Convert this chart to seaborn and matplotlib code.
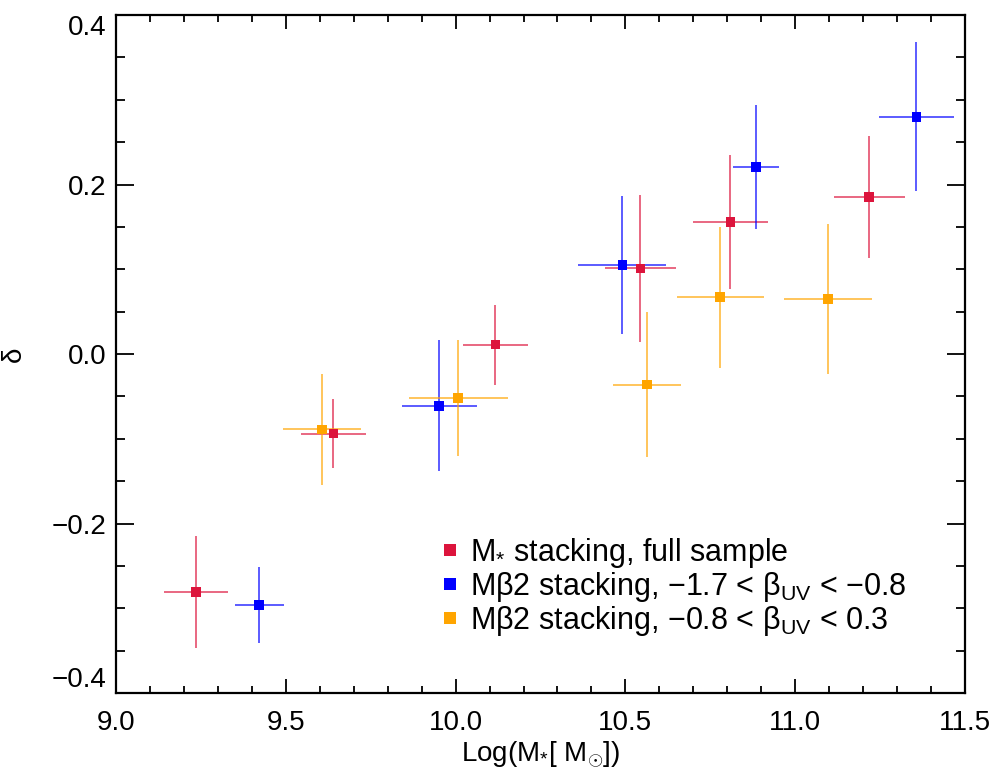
import numpy as np
import pandas as pd
import matplotlib
matplotlib.use("Agg")
import matplotlib.pyplot as plt
import seaborn as sns
from matplotlib.ticker import MultipleLocator, FuncFormatter

# ---- data ----
groups = ["M$_{*}$ stacking, full sample",
          "Mβ2 stacking, −1.7 < β$_{\\rm UV}$ < −0.8",
          "Mβ2 stacking, −0.8 < β$_{\\rm UV}$ < 0.3"]
colors = ["#DC143C", "#0000FF", "#FFA500"]

red_x = [9.235, 9.640, 10.117, 10.544, 10.809, 11.218]
red_y = [-0.281, -0.094, 0.011, 0.101, 0.156, 0.185]
red_xerr = [0.094, 0.095, 0.095, 0.104, 0.110, 0.104]
red_yerr = [0.066, 0.041, 0.047, 0.087, 0.079, 0.072]

blue_x = [9.422, 9.952, 10.491, 10.885, 11.357]
blue_y = [-0.296, -0.061, 0.105, 0.221, 0.280]
blue_xerr = [0.072, 0.110, 0.130, 0.068, 0.110]
blue_yerr = [0.045, 0.077, 0.081, 0.073, 0.088]

orange_x = [9.607, 10.008, 10.564, 10.779, 11.097]
orange_y = [-0.089, -0.052, -0.036, 0.067, 0.065]
orange_xerr = [0.114, 0.146, 0.101, 0.128, 0.130]
orange_yerr = [0.066, 0.068, 0.085, 0.083, 0.088]

series = [(red_x, red_y, red_xerr, red_yerr),
          (blue_x, blue_y, blue_xerr, blue_yerr),
          (orange_x, orange_y, orange_xerr, orange_yerr)]

frames = []
for g, (x, y, xe, ye) in zip(groups, series):
    frames.append(pd.DataFrame({"x": x, "y": y, "xerr": xe, "yerr": ye, "group": g}))
df = pd.concat(frames, ignore_index=True)

# ---- style ----
sns.set_theme(style="white")
plt.rcParams["font.family"] = ["Liberation Sans", "DejaVu Sans"]
plt.rcParams["mathtext.fontset"] = "custom"
plt.rcParams["mathtext.rm"] = "Liberation Sans"
plt.rcParams["mathtext.it"] = "Liberation Sans:italic"
plt.rcParams["mathtext.bf"] = "Liberation Sans:bold"
plt.rcParams["text.color"] = "black"
plt.rcParams["axes.labelcolor"] = "black"
plt.rcParams["xtick.color"] = "black"
plt.rcParams["ytick.color"] = "black"

fig = plt.figure(figsize=(9.94, 7.69), dpi=100)
ax = fig.add_axes([0.1167, 0.0988, 0.9708 - 0.1167, 0.9805 - 0.0988])

for g, c in zip(groups, colors):
    d = df[df["group"] == g]
    ax.errorbar(d["x"], d["y"], xerr=d["xerr"], yerr=d["yerr"], fmt="none",
                ecolor=c, elinewidth=1.2, alpha=0.75, capsize=0, zorder=2)

sns.scatterplot(data=df, x="x", y="y", hue="group", hue_order=groups,
                palette=colors, marker="s", s=48, linewidth=0, ax=ax, zorder=3)

ax.set_xlim(9.0, 11.5)
ax.set_ylim(-0.4, 0.4)
ax.xaxis.set_major_locator(MultipleLocator(0.5))
ax.xaxis.set_minor_locator(MultipleLocator(0.1))
ax.yaxis.set_major_locator(MultipleLocator(0.2))
ax.yaxis.set_minor_locator(MultipleLocator(0.05))

def fmt(v, pos):
    s = f"{v:.1f}"
    if s == "-0.0":
        s = "0.0"
    return s.replace("-", "−")

ax.xaxis.set_major_formatter(FuncFormatter(fmt))
ax.yaxis.set_major_formatter(FuncFormatter(fmt))

ax.tick_params(axis="both", which="both", direction="in", top=True, right=True,
               bottom=True, left=True, colors="black", labelsize=20, width=1.3)
ax.tick_params(axis="x", which="major", length=10, pad=12)
ax.tick_params(axis="x", which="minor", length=5)
ax.tick_params(axis="y", which="major", length=13, pad=7)
ax.tick_params(axis="y", which="minor", length=6.5)
for sp in ax.spines.values():
    sp.set_linewidth(1.6)
    sp.set_color("black")

ax.set_xlabel("Log(M$_{*}$[ M$_{\\odot}$])", fontsize=20, labelpad=3, color="black")
ax.set_ylabel("δ", fontsize=20, color="black")
ax.yaxis.set_label_coords(-0.105, 0.5)

fig.canvas.draw()
for tick in ax.yaxis.get_major_ticks():
    loc = tick.get_loc()
    if abs(loc - 0.4) < 1e-6:
        tick.label1.set_verticalalignment("top")
    elif abs(loc + 0.4) < 1e-6:
        tick.label1.set_verticalalignment("bottom")

leg = ax.legend(loc="upper left", bbox_to_anchor=(0.375, 0.232), frameon=False,
                fontsize=22, handletextpad=0.15, labelspacing=0.0,
                markerscale=1.3, handlelength=1.0, borderaxespad=0,
                borderpad=0)
for t in leg.get_texts():
    t.set_color("black")

fig.savefig("out.png", dpi=100)
